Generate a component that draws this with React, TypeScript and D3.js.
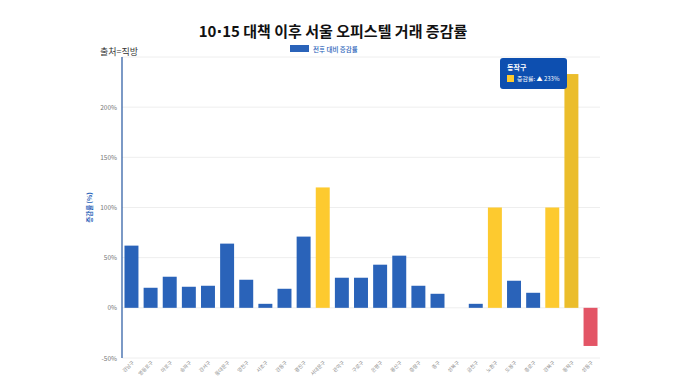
import React from "react";
import * as d3 from "d3";

const districts = ["강남구","영등포구","마포구","송파구","강서구","동대문구","양천구","서초구","강동구","광진구","서대문구","관악구","구로구","은평구","용산구","중랑구","중구","성북구","금천구","노원구","도봉구","종로구","강북구","동작구","성동구"];
const changes = [62,20,31,21,22,64,28,4,19,71,120,30,30,43,52,22,14,0,4,100,27,15,100,233,-38];
const yTicks = [-50,0,50,100,150,200];

const W = 680, H = 383;
const M = { left: 122, right: 600, top: 57, bottom: 358 };

function colorFor(v: number, i: number, hi: number) {
  if (v < 0) return "#e35566";
  if (i === hi) return "#ebbd2b";
  if (v >= 100) return "#fdca2f";
  return "#2a63b9";
}

export default function App() {
  const x = d3.scaleBand<string>().domain(districts).range([M.left, M.right]).paddingInner(0.27).paddingOuter(0.13);
  const y = d3.scaleLinear().domain([-50, 250]).range([M.bottom, M.top]);
  const hi = districts.indexOf("동작구");
  const font = "'Noto Sans CJK KR', 'Noto Sans', sans-serif";
  return (
    <svg width={W} height={H} style={{ position: "absolute", left: 0, top: 0, fontFamily: font }}>
      <rect width={W} height={H} fill="#fff" />
      <text x={333} y={37} textAnchor="middle" fontSize={15} fontWeight={700} fill="#111">
        10<tspan fontFamily="'DejaVu Sans', sans-serif">·</tspan>15 대책 이후 서울 오피스텔 거래 증감률
      </text>
      <rect x={290} y={45} width={19} height={7} fill="#2a63b9" />
      <text x={313} y={51.5} fontSize={6.5} fontWeight={500} fill="#2a63b9">전후 대비 증감률</text>
      <text x={100} y={55} fontSize={9} fill="#333">출처=직방</text>
      {[...yTicks, 250].map(t => (
        <line key={"g" + t} x1={M.left} x2={M.right} y1={y(t)} y2={y(t)} stroke="#eeeeee" strokeWidth={1} />
      ))}
      {yTicks.map(t => (
        <text key={"t" + t} x={117} y={y(t) + 2.5} textAnchor="end" fontSize={6.5} fill="#777">{t}%</text>
      ))}
      <text transform={`translate(92,${y(100)}) rotate(-90)`} textAnchor="middle" fontSize={6.5} fontWeight={700} fill="#2a63b9">증감률 (%)</text>
      {districts.map((d, i) => {
        const v = changes[i];
        const y0 = y(Math.max(0, v)), y1 = y(Math.min(0, v));
        return <rect key={d} x={x(d)} y={y0} width={x.bandwidth()} height={Math.max(0, y1 - y0)} fill={colorFor(v, i, hi)} />;
      })}
      <line x1={M.left} x2={M.left} y1={M.top} y2={M.bottom} stroke="#24569f" strokeWidth={1.2} />
      {districts.map(d => {
        const cx = (x(d) as number) + x.bandwidth() / 2;
        return (
          <text key={"l" + d} transform={`translate(${cx + 3},${M.bottom + 5}) rotate(-45)`} textAnchor="end" fontSize={5} fill="#888">{d}</text>
        );
      })}
      <g>
        <rect x={500} y={58} width={67} height={31} rx={3} fill="#0d4fb0" />
        <text x={507} y={70} fontSize={7} fontWeight={700} fill="#fff">{districts[hi]}</text>
        <rect x={507} y={75} width={7} height={7} fill="#fdca2f" />
        <text x={517} y={81} fontSize={6} fill="#fff">증감률: ▲ {changes[hi]}%</text>
      </g>
    </svg>
  );
}
